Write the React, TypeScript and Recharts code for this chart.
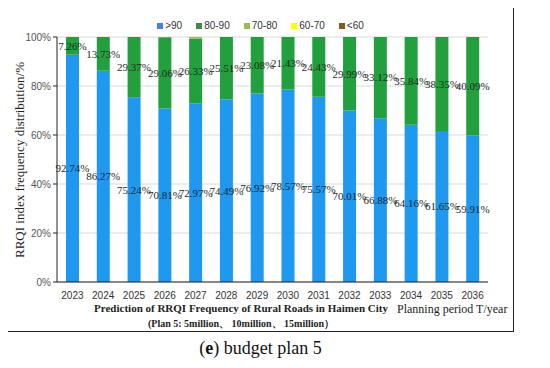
import { BarChart, Bar, XAxis, YAxis, CartesianGrid, LabelList } from "recharts";

const years = ["2023", "2024", "2025", "2026", "2027", "2028", "2029", "2030", "2031", "2032", "2033", "2034", "2035", "2036"];
const above90 = [92.74, 86.27, 75.24, 70.81, 72.97, 74.49, 76.92, 78.57, 75.57, 70.01, 66.88, 64.16, 61.65, 59.91];
const from80to90 = [7.26, 13.73, 29.37, 29.06, 26.33, 25.51, 23.08, 21.43, 24.43, 29.99, 33.12, 35.84, 38.35, 40.09];
const from70to80 = [0, 0, 0, 0.13, 0.7, 0, 0, 0, 0, 0, 0, 0, 0, 0];
const from60to70 = [0, 0, 0, 0, 0, 0, 0, 0, 0, 0, 0, 0, 0, 0];
const below60 = [0, 0, 0, 0, 0, 0, 0, 0, 0, 0, 0, 0, 0, 0];
const yTicks = [0, 20, 40, 60, 80, 100];

const series = [
  { key: "a", name: ">90", fill: "#1f98f0", legend: "#4a7fe0" },
  { key: "b", name: "80-90", fill: "#23a03e", legend: "#3c8c4a" },
  { key: "c", name: "70-80", fill: "#9bbb59", legend: "#9bbb59" },
  { key: "d", name: "60-70", fill: "#ffff00", legend: "#ffff00" },
  { key: "e", name: "<60", fill: "#7f5f1f", legend: "#7f5f1f" },
];

const data = years.map((y, i) => ({
  year: y,
  a: above90[i],
  b: from80to90[i],
  c: from70to80[i],
  d: from60to70[i],
  e: below60[i],
}));

const pct = (v: number) => (v ? `${v.toFixed(2)}%` : "");
const labelStyle = { fontFamily: "Liberation Serif", fontSize: 11, fill: "#1e2a1e" };

function LegendRow() {
  return (
    <div style={{ display: "flex", gap: 14, fontFamily: "Liberation Sans", fontSize: 10, color: "#333", justifyContent: "center" }}>
      {series.map((s) => (
        <span key={s.key} style={{ display: "flex", alignItems: "center", gap: 2 }}>
          <span style={{ width: 6, height: 6, background: s.legend, display: "inline-block" }} />
          {s.name}
        </span>
      ))}
    </div>
  );
}

export default function App() {
  return (
    <div style={{ position: "relative", width: 540, height: 360 }}>
      <div style={{ position: "absolute", left: -1, top: -1, width: 505, height: 323, border: "1px solid #222", background: "#fff" }}>
        <BarChart width={505} height={323} data={data} margin={{ top: 29, right: 25, bottom: 29, left: 9 }} barSize={13}>
          <CartesianGrid vertical={false} stroke="#d9d9d9" />
          <XAxis
            dataKey="year"
            tick={{ fontFamily: "Liberation Sans", fontSize: 10, fill: "#333" }}
            axisLine={{ stroke: "#222" }}
            tickLine={false}
            height={20}
            tickMargin={4}
          />
          <YAxis
            domain={[0, 100]}
            ticks={yTicks}
            allowDataOverflow
            tickFormatter={(v) => `${v}%`}
            tick={{ fontFamily: "Liberation Sans", fontSize: 10, fill: "#555" }}
            axisLine={{ stroke: "#222" }}
            tickLine={{ stroke: "#222" }}
            tickSize={4}
            width={40}
          />
          {series.map((s) => (
            <Bar key={s.key} dataKey={s.key} name={s.name} stackId="x" fill={s.fill} isAnimationActive={false}>
              {(s.key === "a" || s.key === "b") && (
                <LabelList dataKey={s.key} position="center" formatter={pct} style={labelStyle} />
              )}
            </Bar>
          ))}
        </BarChart>
        <div style={{ position: "absolute", left: 0, width: 505, top: 12 }}>
          <LegendRow />
        </div>
        <div
          style={{
            position: "absolute",
            left: 12,
            top: 152,
            transform: "translate(-50%, -50%) rotate(-90deg)",
            whiteSpace: "nowrap",
            fontFamily: "Liberation Serif",
            fontSize: 13,
            color: "#222",
          }}
        >
          RRQI index frequency distribution/%
        </div>
        <div style={{ position: "absolute", left: 0, width: 466, top: 294, textAlign: "center", fontFamily: "Liberation Serif", fontWeight: "bold", fontSize: 11, color: "#222" }}>
          Prediction of RRQI Frequency of Rural Roads in Haimen City
        </div>
        <div style={{ position: "absolute", left: 0, width: 466, top: 309, textAlign: "center", fontFamily: "Liberation Serif", fontWeight: "bold", fontSize: 10, color: "#222" }}>
          (Plan 5: 5million、 10million、 15million）
        </div>
        <div style={{ position: "absolute", left: 389, top: 294, whiteSpace: "nowrap", fontFamily: "Liberation Serif", fontSize: 12, color: "#222" }}>
          Planning period T/year
        </div>
      </div>
      <div style={{ position: "absolute", left: 0, width: 505, top: 330, textAlign: "center", fontFamily: "Liberation Serif", fontSize: 18, color: "#111" }}>
        (<b>e</b>) budget plan 5
      </div>
    </div>
  );
}
